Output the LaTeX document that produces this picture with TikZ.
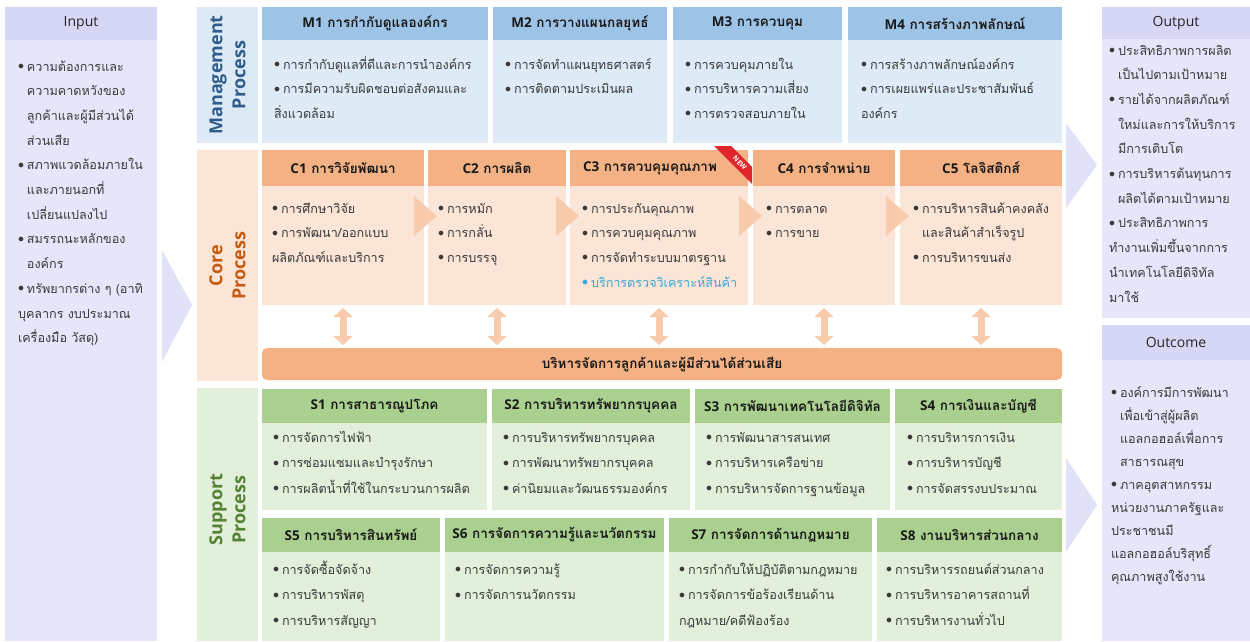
\documentclass[tikz,border=0pt]{standalone}
\usepackage{fontspec}
\usetikzlibrary{arrows.meta}
\newfontfamily\thai[Script=Thai]{Loma}
\newfontfamily\lat{Open Sans}

\definecolor{inbody}{HTML}{E6E6FA}
\definecolor{inhead}{HTML}{D6D6F5}
\definecolor{chevlav}{HTML}{E1E1F8}
\definecolor{mlab}{HTML}{DDEAF6}
\definecolor{mhead}{HTML}{9DC3E6}
\definecolor{mbody}{HTML}{DEEBF7}
\definecolor{mtext}{HTML}{2E5C8A}
\definecolor{clab}{HTML}{FBE5D6}
\definecolor{chead}{HTML}{F4B183}
\definecolor{cbody}{HTML}{FBE5D6}
\definecolor{cchev}{HTML}{F8CBAD}
\definecolor{ctext}{HTML}{C55A11}
\definecolor{slab}{HTML}{E2EFDA}
\definecolor{shead}{HTML}{A9D08E}
\definecolor{sbody}{HTML}{E2EFDA}
\definecolor{stext}{HTML}{548235}
\definecolor{bodytext}{HTML}{3A3A3A}
\definecolor{newblue}{HTML}{35A9D9}
\definecolor{ribbon}{HTML}{E0262B}

% fonts for the boxes
\newcommand\bodyfont{\thai\fontsize{12.6}{24.7}\selectfont}
\newcommand\sbodyfont{\thai\fontsize{12.6}{25.5}\selectfont}
\newcommand\ocfont{\thai\fontsize{12.6}{23}\selectfont}
\newcommand\headfont{\thai\bfseries\fontsize{13.5}{16}\selectfont}
\newcommand\labelfont{\lat\bfseries\fontsize{18}{23}\selectfont}
\newcommand\sidefont{\lat\fontsize{14}{16}\selectfont}
% bullet items with hanging indent; \newline for continuation lines
\newcommand\bmark{\makebox[9pt][l]{\raisebox{1.5pt}{$\bullet$}}}
\newcommand\bstart{\lineskiplimit=-30pt\hangindent=9pt\hangafter=1\bmark}
\newcommand\bi{\par\lineskiplimit=-30pt\hangindent=9pt\hangafter=1\noindent\bmark}
\newcommand\bic[1]{\par\lineskiplimit=-30pt\hangindent=9pt\hangafter=1\noindent\color{#1}\bmark}
\newcommand\hd[2]{{\lat\bfseries #1} #2}

\begin{document}
\begin{tikzpicture}[x=1pt,y=-1pt,
  every node/.style={inner sep=0pt, outer sep=0pt},
  rect/.style={anchor=north west, minimum width=#1},
  hfont/.style={font=\headfont, text=black!90},
  mh/.style={rect=#1, fill=mhead, minimum height=33, hfont},
  mb/.style={rect=#1, fill=mbody, minimum height=103},
  ch/.style={rect=#1, fill=chead, minimum height=36, hfont},
  cb/.style={rect=#1, fill=cbody, minimum height=119},
  sh/.style={rect=#1, fill=shead, minimum height=34, hfont},
  sb/.style={rect=#1, fill=sbody, minimum height=87},
  sb2/.style={rect=#1, fill=sbody, minimum height=89},
  body/.style={anchor=base west, text width=#1pt, align=left, text=bodytext, font=\bodyfont},
  sbody/.style={body=#1, font=\sbodyfont},
  ocbody/.style={body=#1, font=\ocfont},
  vlabel/.style={rotate=90, align=center, font=\labelfont},
  sidehead/.style={font=\sidefont, text=black!85},
  chev/.style={fill=cchev},
  bigchev/.style={fill=chevlav},
  dbl/.style={draw=cchev, line width=7pt, shorten <=3pt, shorten >=3pt,
    {Triangle[width=19pt,length=9pt]}-{Triangle[width=19pt,length=9pt]}}
]
\useasboundingbox (0,0) rectangle (1250,641);

% ---------- Input ----------
\node[rect=152, fill=inbody, minimum height=634] (inpanel) at (5,7) {};
\node[rect=152, fill=inhead, minimum height=33, sidehead] (inhead) at (5,7) {Input};
\node[body=135] (intext) at (18,71) {%
  \bstart ความต้องการและ\newline ความคาดหวังของ\newline ลูกค้าและผู้มีส่วนได้\newline ส่วนเสีย
  \bi สภาพแวดล้อมภายใน\newline และภายนอกที่\newline เปลี่ยนแปลงไป
  \bi สมรรถนะหลักของ\newline องค์กร
  \bi ทรัพยากรต่าง ๆ (อาทิ\newline บุคลากร งบประมาณ\newline เครื่องมือ วัสดุ)};
\fill[bigchev] (162,250) -- (192,305) -- (162,362) -- cycle;

% ---------- Side labels ----------
\node[rect=61, fill=mlab, minimum height=136] (mlabel) at (197,7) {};
\node[vlabel, text=mtext] at (mlabel.center) {Management\\Process};
\node[rect=61, fill=clab, minimum height=231] (clabel) at (197,150) {};
\node[vlabel, text=ctext] at (clabel.center) {Core\\Process};
\node[rect=61, fill=slab, minimum height=253] (slabel) at (197,388) {};
\node[vlabel, text=stext] at ([yshift=5pt]slabel.center) {Support\\Process};

% ---------- Management process ----------
\node[mh=226] (m1h) at (262,7) {\hd{M1}{การกำกับดูแลองค์กร}};
\node[mb=226] (m1b) at (262,40) {};
\node[body=215] (m1t) at (274,69) {%
  \bstart การกำกับดูแลที่ดีและการนำองค์กร
  \bi การมีความรับผิดชอบต่อสังคมและ\newline สิ่งแวดล้อม};
\node[mh=174] (m2h) at (493,7) {\hd{M2}{การวางแผนกลยุทธ์}};
\node[mb=174] (m2b) at (493,40) {};
\node[body=165] (m2t) at (505,69) {%
  \bstart การจัดทำแผนยุทธศาสตร์
  \bi การติดตามประเมินผล};
\node[mh=169] (m3h) at (673,7) {\hd{M3}{การควบคุม}};
\node[mb=169] (m3b) at (673,40) {};
\node[body=160] (m3t) at (685,69) {%
  \bstart การควบคุมภายใน
  \bi การบริหารความเสี่ยง
  \bi การตรวจสอบภายใน};
\node[mh=214] (m4h) at (848,7) {\hd{M4}{การสร้างภาพลักษณ์}};
\node[mb=214] (m4b) at (848,40) {};
\node[body=205] (m4t) at (861,69) {%
  \bstart การสร้างภาพลักษณ์องค์กร
  \bi การเผยแพร่และประชาสัมพันธ์\newline องค์กร};

% ---------- Core process ----------
\node[ch=162] (c1h) at (262,150) {\hd{C1}{การวิจัยพัฒนา}};
\node[cb=162] (c1b) at (262,186) {};
\node[body=150] (c1t) at (272,213) {%
  \bstart การศึกษาวิจัย
  \bi การพัฒนา/ออกแบบ\newline ผลิตภัณฑ์และบริการ};
\node[ch=138] (c2h) at (428,150) {\hd{C2}{การผลิต}};
\node[cb=138] (c2b) at (428,186) {};
\node[body=125] (c2t) at (438,213) {%
  \bstart การหมัก
  \bi การกลั่น
  \bi การบรรจุ};
\node[ch=178] (c3h) at (570,150) {};
\node[hfont] (c3title) at ([xshift=-9pt]c3h.center) {\hd{C3}{การควบคุมคุณภาพ}};
\node[cb=178] (c3b) at (570,186) {};
\node[body=170] (c3t) at (582,213) {%
  \bstart การประกันคุณภาพ
  \bi การควบคุมคุณภาพ
  \bi การจัดทำระบบมาตรฐาน
  \bic{newblue}บริการตรวจวิเคราะห์สินค้า};
\node[ch=142] (c4h) at (753,150) {\hd{C4}{การจำหน่าย}};
\node[cb=142] (c4b) at (753,186) {};
\node[body=130] (c4t) at (766,213) {%
  \bstart การตลาด
  \bi การขาย};
\node[ch=162] (c5h) at (900,150) {\hd{C5}{โลจิสติกส์}};
\node[cb=162] (c5b) at (900,186) {};
\node[body=150] (c5t) at (913,213) {%
  \bstart การบริหารสินค้าคงคลัง\newline และสินค้าสำเร็จรูป
  \bi การบริหารขนส่ง};

% flow chevrons between the core steps
\fill[chev] (414,196) -- (437,216) -- (414,236) -- cycle;
\fill[chev] (556,196) -- (579,216) -- (556,236) -- cycle;
\fill[chev] (739,196) -- (762,216) -- (739,236) -- cycle;
\fill[chev] (886,196) -- (909,216) -- (886,236) -- cycle;

% "NEW" corner ribbon on C3
\fill[ribbon] (714,146) -- (731,146) -- (752,167) -- (752,184) -- cycle;
\node[rotate=-45, text=white, font=\lat\bfseries\fontsize{7}{8}\selectfont] (newtag) at (740,163) {NEW};

% customer / stakeholder bar
\node[rect=800, fill=chead, minimum height=32, rounded corners=5pt, hfont] (bar) at (262,348) {บริหารจัดการลูกค้าและผู้มีส่วนได้ส่วนเสีย};
\foreach \c in {c1b,c2b,c3b,c4b,c5b}
  \draw[dbl] (\c.south) -- (\c.south |- bar.north);

% ---------- Support process ----------
\node[sh=225] (s1h) at (262,389) {\hd{S1}{การสาธารณูปโภค}};
\node[sb=225] (s1b) at (262,423) {};
\node[sbody=215] (s1t) at (273,442) {%
  \bstart การจัดการไฟฟ้า
  \bi การซ่อมแซมและบำรุงรักษา
  \bi การผลิตน้ำที่ใช้ในกระบวนการผลิต};
\node[sh=198] (s2h) at (492,389) {\hd{S2}{การบริหารทรัพยากรบุคคล}};
\node[sb=198] (s2b) at (492,423) {};
\node[sbody=185] (s2t) at (503,442) {%
  \bstart การบริหารทรัพยากรบุคคล
  \bi การพัฒนาทรัพยากรบุคคล
  \bi ค่านิยมและวัฒนธรรมองค์กร};
\node[sh=195] (s3h) at (695,389) {\hd{S3}{การพัฒนาเทคโนโลยีดิจิทัล}};
\node[sb=195] (s3b) at (695,423) {};
\node[sbody=185] (s3t) at (706,442) {%
  \bstart การพัฒนาสารสนเทศ
  \bi การบริหารเครือข่าย
  \bi การบริหารจัดการฐานข้อมูล};
\node[sh=167] (s4h) at (895,389) {\hd{S4}{การเงินและบัญชี}};
\node[sb=167] (s4b) at (895,423) {};
\node[sbody=155] (s4t) at (907,442) {%
  \bstart การบริหารการเงิน
  \bi การบริหารบัญชี
  \bi การจัดสรรงบประมาณ};

\node[sh=178] (s5h) at (262,518) {\hd{S5}{การบริหารสินทรัพย์}};
\node[sb2=178] (s5b) at (262,552) {};
\node[sbody=165] (s5t) at (273,574) {%
  \bstart การจัดซื้อจัดจ้าง
  \bi การบริหารพัสดุ
  \bi การบริหารสัญญา};
\node[sh=219] (s6h) at (445,518) {\hd{S6}{การจัดการความรู้และนวัตกรรม}};
\node[sb2=219] (s6b) at (445,552) {};
\node[sbody=205] (s6t) at (455,574) {%
  \bstart การจัดการความรู้
  \bi การจัดการนวัตกรรม};
\node[sh=203] (s7h) at (669,518) {\hd{S7}{การจัดการด้านกฎหมาย}};
\node[sb2=203] (s7b) at (669,552) {};
\node[sbody=195] (s7t) at (679,574) {%
  \bstart การกำกับให้ปฏิบัติตามกฎหมาย
  \bi การจัดการข้อร้องเรียนด้าน\newline กฎหมาย/คดีฟ้องร้อง};
\node[sh=185] (s8h) at (877,518) {\hd{S8}{งานบริหารส่วนกลาง}};
\node[sb2=185] (s8b) at (877,552) {};
\node[sbody=175] (s8t) at (886,574) {%
  \bstart การบริหารรถยนต์ส่วนกลาง
  \bi การบริหารอาคารสถานที่
  \bi การบริหารงานทั่วไป};

% ---------- Output / Outcome ----------
\fill[bigchev] (1066,123) -- (1097,165) -- (1066,208) -- cycle;
\fill[bigchev] (1066,458) -- (1097,505) -- (1066,552) -- cycle;

\node[rect=148, fill=inbody, minimum height=311] (outpanel) at (1102,7) {};
\node[rect=148, fill=inhead, minimum height=32, sidehead] (outhead) at (1102,7) {Output};
\node[body=138] (outtext) at (1109,55) {%
  \bstart ประสิทธิภาพการผลิต\newline เป็นไปตามเป้าหมาย
  \bi รายได้จากผลิตภัณฑ์\newline ใหม่และการให้บริการ\newline มีการเติบโต
  \bi การบริหารต้นทุนการ\newline ผลิตได้ตามเป้าหมาย
  \bi ประสิทธิภาพการ\newline ทำงานเพิ่มขึ้นจากการ\newline นำเทคโนโลยีดิจิทัล\newline มาใช้};

\node[rect=148, fill=inbody, minimum height=316] (ocpanel) at (1102,325) {};
\node[rect=148, fill=inhead, minimum height=35, sidehead] (ochead) at (1102,325) {Outcome};
\node[ocbody=138] (octext) at (1111,397) {%
  \bstart องค์การมีการพัฒนา\newline เพื่อเข้าสู่ผู้ผลิต\newline แอลกอฮอล์เพื่อการ\newline สาธารณสุข
  \bi ภาคอุตสาหกรรม\newline หน่วยงานภาครัฐและ\newline ประชาชนมี\newline แอลกอฮอล์บริสุทธิ์\newline คุณภาพสูงใช้งาน};
\end{tikzpicture}
\end{document}
